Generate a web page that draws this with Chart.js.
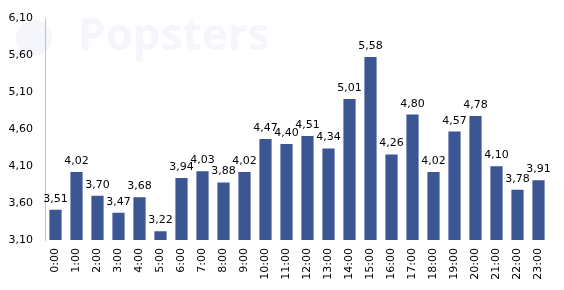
<!DOCTYPE html>
<html>
<head>
<meta charset="utf-8">
<script src="https://cdn.jsdelivr.net/npm/chart.js@4"></script>
<style>
  html, body { margin: 0; padding: 0; background: #fff; }
  #wrap { width: 564px; height: 290px; position: relative; }
</style>
</head>
<body>
<div id="wrap"><canvas id="chart"></canvas></div>
<script>
const hours = ['0:00','1:00','2:00','3:00','4:00','5:00','6:00','7:00','8:00','9:00','10:00','11:00',
               '12:00','13:00','14:00','15:00','16:00','17:00','18:00','19:00','20:00','21:00','22:00','23:00'];
const values = [3.51, 4.02, 3.70, 3.47, 3.68, 3.22, 3.94, 4.03, 3.88, 4.02, 4.47, 4.40,
                4.51, 4.34, 5.01, 5.58, 4.26, 4.80, 4.02, 4.57, 4.78, 4.10, 3.78, 3.91];
const yTicks = [3.10, 3.60, 4.10, 4.60, 5.10, 5.60, 6.10];

const FONT = '"DejaVu Sans", Verdana, sans-serif';
const fmt = v => v.toFixed(2).replace('.', ',');

// faint watermark behind the bars
const watermark = {
  id: 'watermark',
  beforeDraw(chart) {
    const c = chart.ctx;
    c.save();
    c.fillStyle = '#f4f6fb';
    c.beginPath();
    c.arc(34, 38, 18, 0, Math.PI * 2);
    c.fill();
    c.font = 'bold 44px "Open Sans", sans-serif';
    c.textBaseline = 'middle';
    c.fillText('Popsters', 78, 37);
    c.restore();
  }
};

// value labels above each bar
const barLabels = {
  id: 'barLabels',
  afterDatasetsDraw(chart) {
    const c = chart.ctx;
    const meta = chart.getDatasetMeta(0);
    c.save();
    c.font = '11px ' + FONT;
    c.fillStyle = '#000';
    c.textAlign = 'center';
    c.textBaseline = 'alphabetic';
    meta.data.forEach((bar, i) => {
      c.fillText(fmt(values[i]), bar.x, bar.y - 8);
    });
    c.restore();
  }
};

new Chart(document.getElementById('chart'), {
  type: 'bar',
  data: {
    labels: hours,
    datasets: [{
      data: values,
      backgroundColor: '#3b5693',
      barPercentage: 0.58,
      categoryPercentage: 1.0
    }]
  },
  options: {
    responsive: true,
    maintainAspectRatio: false,
    animation: false,
    layout: { padding: { top: 9, right: 15, left: 0, bottom: 0 } },
    plugins: { legend: { display: false }, tooltip: { enabled: false } },
    scales: {
      x: {
        grid: { display: false, drawTicks: false },
        border: { display: false },
        afterFit(axis) { axis.height = 50; },
        ticks: {
          color: '#000',
          font: { family: FONT, size: 11 },
          minRotation: 90, maxRotation: 90,
          padding: 8
        }
      },
      y: {
        min: 3.10, max: 6.10,
        afterBuildTicks(axis) { axis.ticks = yTicks.map(v => ({ value: v })); },
        afterFit(axis) { axis.width = 45; },
        grid: { display: false, drawTicks: false },
        border: { display: true, color: '#b9c3d3', width: 1 },
        ticks: {
          color: '#000',
          font: { family: FONT, size: 11 },
          padding: 12,
          callback: v => fmt(v)
        }
      }
    }
  },
  plugins: [watermark, barLabels]
});
</script>
</body>
</html>
